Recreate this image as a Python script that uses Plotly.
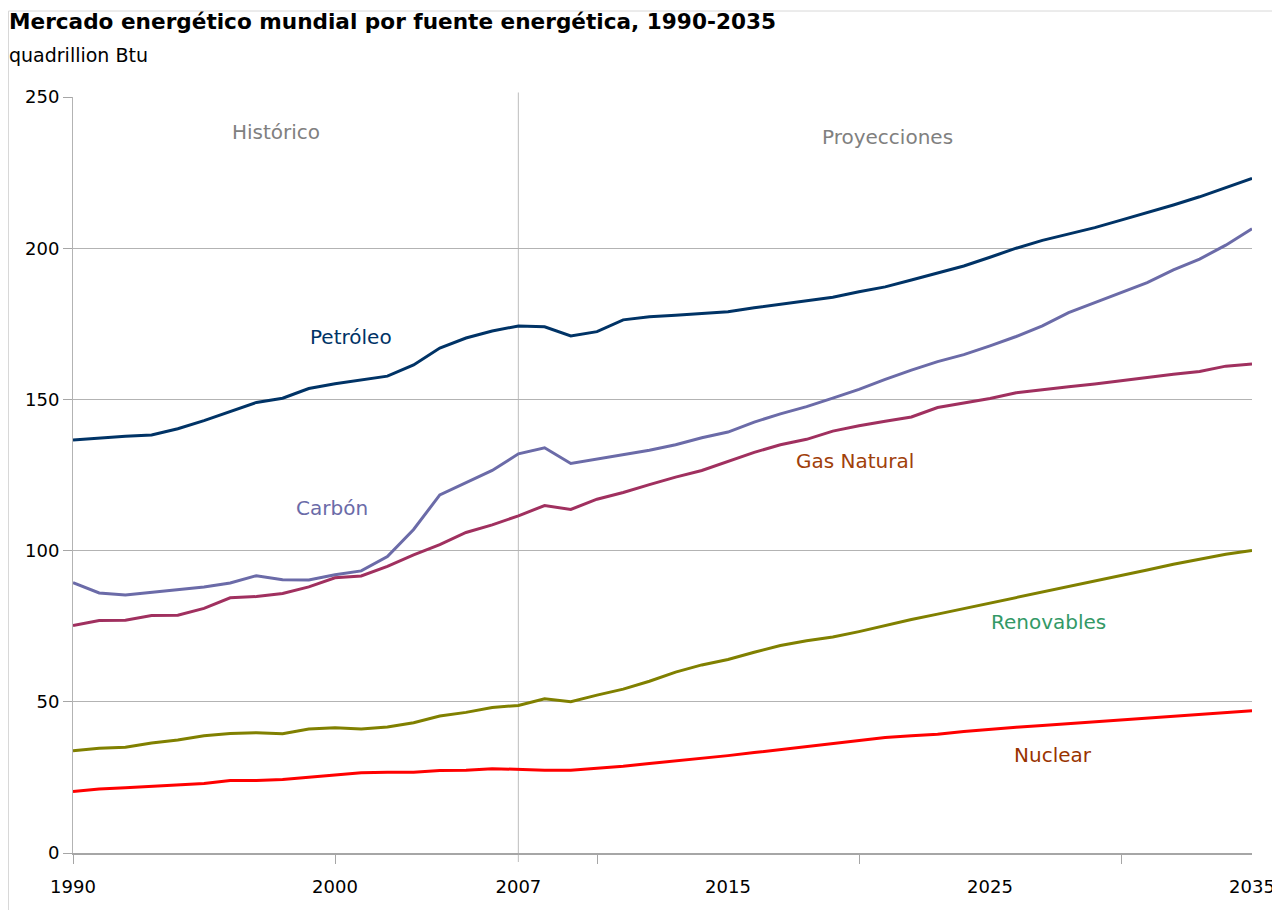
import plotly.graph_objects as go

years = list(range(1990, 2036))

petroleo = [136.6, 137.3, 137.8, 138.2, 140.3, 143.0, 146.0, 149.0, 150.4, 153.6,
            155.2, 156.4, 157.7, 161.4, 167.0, 170.3, 172.6, 174.3, 174.0, 171.0,
            172.4, 176.3, 177.3, 177.8, 178.3, 179.0, 180.3, 181.4, 182.5, 183.8,
            185.6, 187.2, 189.5, 191.8, 194.1, 197.0, 200.0, 202.6, 204.6, 206.8,
            209.3, 211.7, 214.3, 217.0, 220.1, 223.1]

carbon = [89.4, 86.0, 85.3, 86.2, 87.0, 88.0, 89.3, 91.7, 90.4, 90.3,
          92.0, 93.3, 98.0, 107.0, 118.4, 122.5, 126.5, 132.0, 134.0, 128.8,
          130.3, 131.6, 133.2, 135.0, 137.3, 139.2, 142.5, 145.2, 147.6, 150.4,
          153.3, 156.6, 159.7, 162.5, 164.8, 167.7, 170.8, 174.3, 178.7, 182.0,
          185.3, 188.6, 192.8, 196.4, 201.0, 206.4]

gas = [75.2, 76.9, 77.0, 78.5, 78.6, 80.9, 84.4, 84.8, 85.8, 88.0,
       91.0, 91.6, 94.8, 98.6, 102.0, 106.0, 108.5, 111.5, 114.9, 113.6,
       117.0, 119.2, 121.8, 124.3, 126.5, 129.4, 132.5, 135.0, 136.8, 139.5,
       141.3, 142.8, 144.2, 147.3, 148.9, 150.3, 152.2, 153.3, 154.2, 155.1,
       156.2, 157.2, 158.3, 159.2, 161.0, 161.7]

renovables = [33.8, 34.6, 35.0, 36.4, 37.4, 38.8, 39.5, 39.8, 39.4, 41.0,
              41.4, 41.0, 41.7, 43.1, 45.3, 46.5, 48.1, 48.8, 51.0, 50.0,
              52.2, 54.2, 56.8, 59.8, 62.2, 64.0, 66.4, 68.6, 70.2, 71.4,
              73.2, 75.3, 77.2, 79.0, 80.8, 82.6, 84.4, 86.2, 88.0, 89.9,
              91.8, 93.6, 95.5, 97.2, 98.8, 100.0]

nuclear = [20.3, 21.2, 21.6, 22.0, 22.5, 23.0, 24.0, 24.0, 24.3, 25.0,
           25.6, 26.5, 26.7, 26.7, 27.3, 27.4, 27.9, 27.6, 27.4, 27.4,
           28.0, 28.7, 29.6, 30.4, 31.3, 32.2, 33.2, 34.2, 35.2, 36.2,
           37.4, 38.2, 38.8, 39.3, 40.2, 41.0, 41.6, 42.2, 42.8, 43.3,
           43.9, 44.5, 45.1, 45.6, 46.3, 47.0]

x_tick_labels = [1990, 2000, 2007, 2015, 2025, 2035]
x_tick_marks = [1990, 2000, 2010, 2020, 2030]
y_ticks = [0, 50, 100, 150, 200, 250]

series = [
    ("Petróleo", petroleo, "#003366"),
    ("Carbón", carbon, "#6B6BA8"),
    ("Gas Natural", gas, "#A0305F"),
    ("Renovables", renovables, "#808000"),
    ("Nuclear", nuclear, "#FF0000"),
]

FONT = "DejaVu Sans"

fig = go.Figure()
for name, vals, col in series:
    fig.add_trace(go.Scatter(x=years, y=vals, mode="lines", name=name,
                             line=dict(color=col, width=3), showlegend=False))

labels = [
    ("Histórico", 1997.75, 238.4, "#808080"),
    ("Proyecciones", 2021.1, 236.8, "#808080"),
    ("Petróleo", 2000.6, 170.6, "#003366"),
    ("Carbón", 1999.9, 114.1, "#6B6BA8"),
    ("Gas Natural", 2019.85, 129.6, "#A0400A"),
    ("Renovables", 2027.25, 76.4, "#339966"),
    ("Nuclear", 2027.4, 32.4, "#993300"),
]
for txt, lx, ly, col in labels:
    fig.add_annotation(x=lx, y=ly, xref="x", yref="y", text=txt, showarrow=False,
                       font=dict(family=FONT, size=20, color=col),
                       xanchor="center", yanchor="middle")

fig.add_annotation(x=(7 - 73) / 1179, y=(853 - 21) / 756, xref="paper", yref="paper",
                   text="<b>Mercado energético mundial por fuente energética, 1990-2035</b>",
                   showarrow=False, xanchor="left", yanchor="middle",
                   font=dict(family=FONT, size=21.6, color="black"))
fig.add_annotation(x=(7 - 73) / 1179, y=(853 - 55) / 756, xref="paper", yref="paper",
                   text="quadrillion Btu", showarrow=False, xanchor="left", yanchor="middle",
                   font=dict(family=FONT, size=19, color="black"))

# 2007 divider line
fig.add_shape(type="line", xref="x", yref="paper", x0=2007, x1=2007,
              y0=-0.012, y1=1.006, line=dict(color="#C8C8C8", width=1.2), layer="below")

# light outer frame
fig.add_shape(type="rect", xref="paper", yref="paper",
              x0=(8.5 - 73) / 1179, x1=1.2, y0=-0.5, y1=(853 - 11) / 756,
              line=dict(color="#D8D8D8", width=1), layer="below")

# page body has an 8px margin: plot area spans x 73..1252, y 97..853 on the page
fig.update_layout(
    width=1280, height=902,
    margin=dict(l=65, r=36, t=89, b=57),
    paper_bgcolor="white", plot_bgcolor="white",
    font=dict(family=FONT, size=18, color="black"),
    xaxis=dict(range=[1990, 2035], tickvals=x_tick_labels, ticktext=[str(v) for v in x_tick_labels],
               ticks="", showgrid=False, zeroline=False,
               showline=True, linecolor="#A6A6A6", linewidth=1.5,
               ticklabelstandoff=17,
               tickfont=dict(family=FONT, size=18, color="black"),
               minor=dict(tickmode="array", tickvals=x_tick_marks, ticks="outside",
                          ticklen=9, tickcolor="#A6A6A6", tickwidth=1, showgrid=False)),
    yaxis=dict(range=[0, 250], tickvals=y_ticks, ticks="outside", ticklen=9,
               tickcolor="#A6A6A6", showgrid=True, gridcolor="#B3B3B3", gridwidth=1,
               zeroline=False, showline=True, linecolor="#B3B3B3", linewidth=1,
               tickfont=dict(family=FONT, size=18, color="black")),
)

fig.write_html("out.html")
